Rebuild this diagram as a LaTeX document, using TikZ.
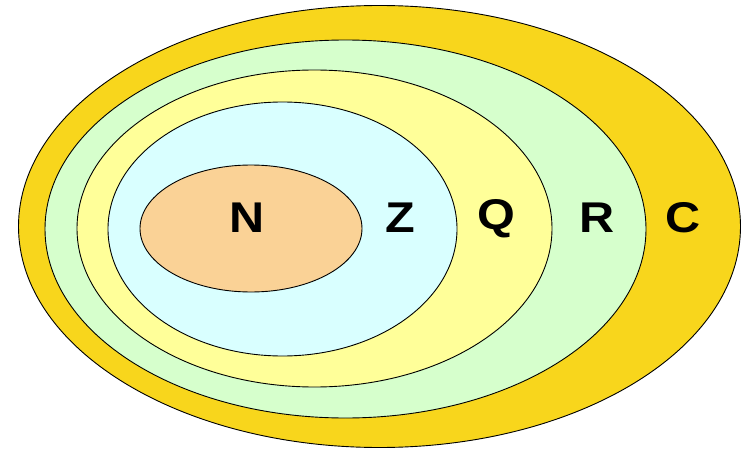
\documentclass[tikz,border=0pt]{standalone}
\usepackage{fontspec}
\setmainfont{Liberation Sans}
\usepackage{tikz}
\definecolor{setC}{RGB}{248,214,28}
\definecolor{setR}{RGB}{214,255,204}
\definecolor{setQ}{RGB}{255,255,153}
\definecolor{setZ}{RGB}{217,255,255}
\definecolor{setN}{RGB}{250,210,150}

\begin{document}
\begin{tikzpicture}[x=1pt, y=-1pt,
                    setline/.style={draw=black, line width=0.9pt},
                    lbl/.style={inner sep=0pt, xscale=1.13,
                                font=\fontsize{43}{43}\selectfont\bfseries}]
  \useasboundingbox (0,0) rectangle (742,452);
  \filldraw[setline, fill=setC] (379.5,226.5) ellipse [x radius=361, y radius=221];
  \filldraw[setline, fill=setR] (345.5,229) ellipse [x radius=300.5, y radius=189];
  \filldraw[setline, fill=setQ] (314.5,228.5) ellipse [x radius=237.5, y radius=158.5];
  \filldraw[setline, fill=setZ] (282.5,229) ellipse [x radius=174.5, y radius=127];
  \filldraw[setline, fill=setN] (251,228.5) ellipse [x radius=111, y radius=63.5];
  \node[lbl] (N) at (247,218) {N};
  \node[lbl] (Z) at (400,218) {Z};
  \node[lbl] (Q) at (496,219) {Q};
  \node[lbl] (R) at (597,218) {R};
  \node[lbl] (C) at (683,218) {C};
\end{tikzpicture}
\end{document}
